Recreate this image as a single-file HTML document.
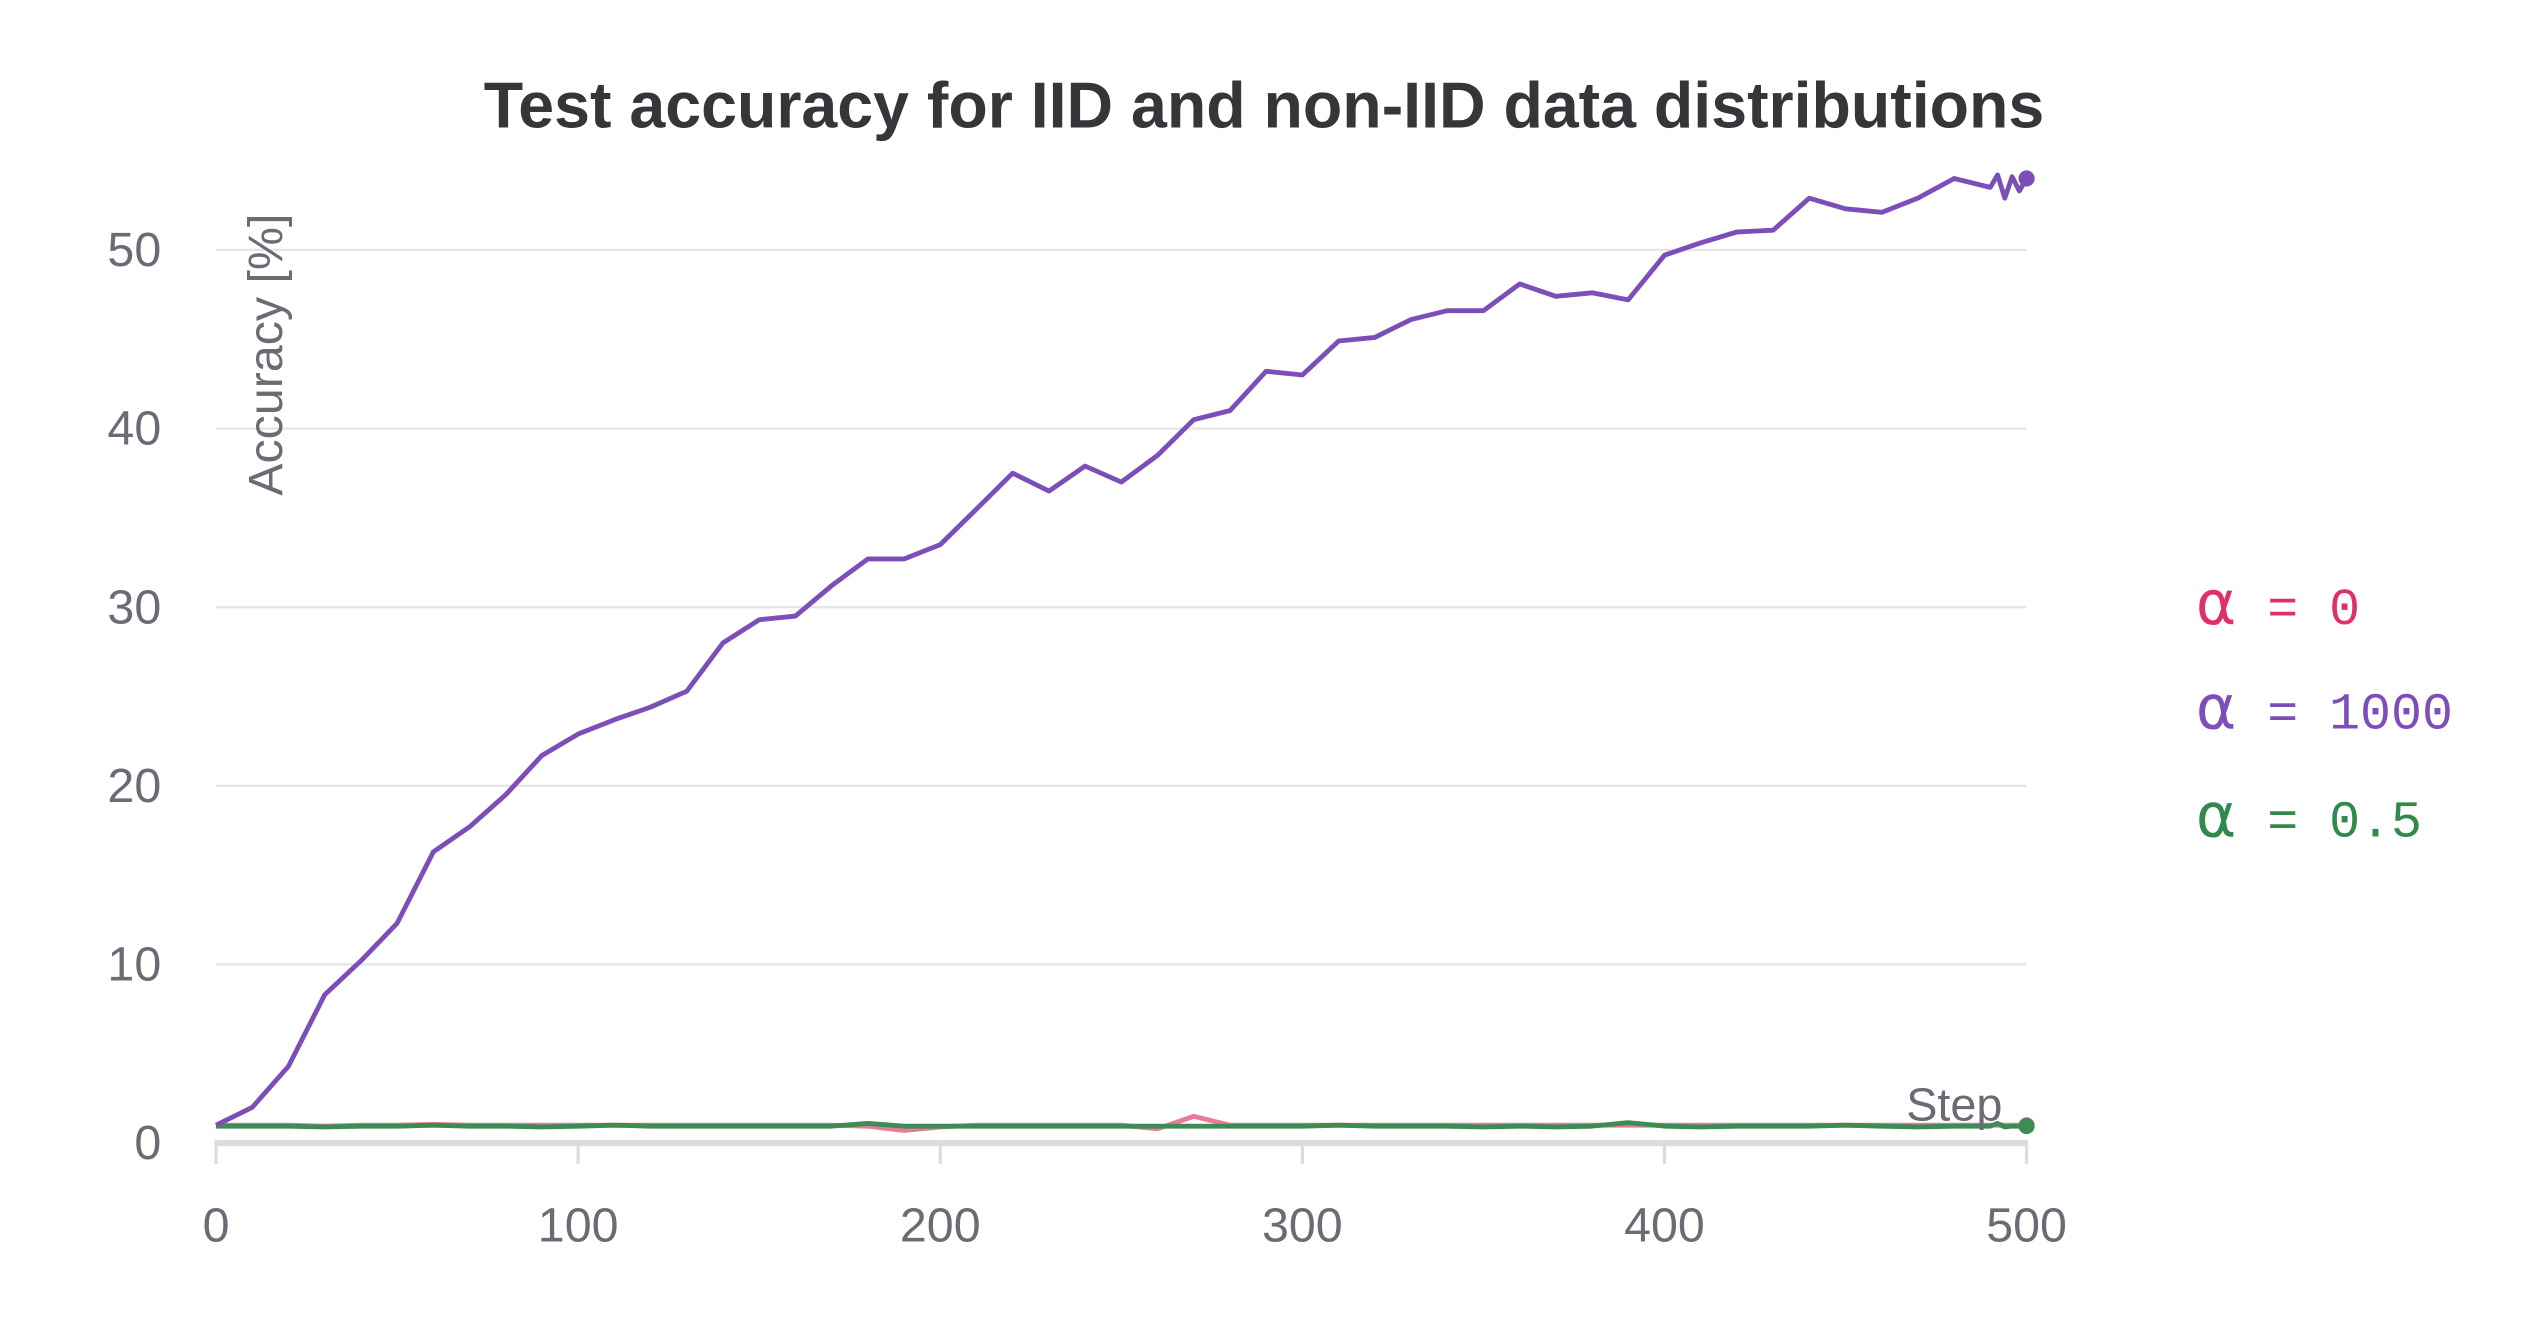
<!DOCTYPE html>
<html><head><meta charset="utf-8"><style>
html,body{margin:0;padding:0;background:#fff;}
svg{display:block;}
</style></head><body>
<svg id="chart" width="2528" height="1328" viewBox="0 0 1568 823.7" xmlns="http://www.w3.org/2000/svg" font-family="'Liberation Sans', sans-serif">
<text x="784" y="79" text-anchor="middle" font-size="40" font-weight="bold" fill="#35353a">Test accuracy for IID and non-IID data distributions</text>
<g id="grid"></g>
<g id="series"></g>
<text transform="translate(175,220) rotate(-90)" text-anchor="middle" font-size="30" fill="#6b6b76">Accuracy [%]</text>
<text x="1242" y="695" text-anchor="end" font-size="29" fill="#6b6b76">Step</text>
<g font-family="'Liberation Mono', monospace" font-size="32">
<text x="1362" y="387" fill="#e0306a"><tspan font-size="38" font-family="'DejaVu Sans', sans-serif">α</tspan> = 0</text>
<text x="1362" y="452" fill="#7c4fb8"><tspan font-size="38" font-family="'DejaVu Sans', sans-serif">α</tspan> = 1000</text>
<text x="1362" y="519" fill="#2f8a4c"><tspan font-size="38" font-family="'DejaVu Sans', sans-serif">α</tspan> = 0.5</text>
</g>
</svg>
<script>
const steps = [0,10,20,30,40,50,60,70,80,90,100,110,120,130,140,150,160,170,180,190,200,210,220,230,240,250,260,270,280,290,300,310,320,330,340,350,360,370,380,390,400,410,420,430,440,450,460,470,480,490,492,494,496,498,500];
const alpha1000 = [1.0,2.0,4.3,8.3,10.2,12.3,16.3,17.7,19.5,21.7,22.9,23.7,24.4,25.3,28.0,29.3,29.5,31.2,32.7,32.7,33.5,35.5,37.5,36.5,37.9,37.0,38.5,40.5,41.0,43.2,43.0,44.9,45.1,46.1,46.6,46.6,48.1,47.4,47.6,47.2,49.7,50.4,51.0,51.1,52.9,52.3,52.1,52.9,54.0,53.5,54.2,52.9,54.1,53.3,54.0];
const alpha0 = [1.0,1.0,1.0,0.95,1.0,1.0,1.05,1.0,1.0,1.0,1.0,1.0,1.0,1.0,1.0,1.0,1.0,1.0,0.95,0.7,0.9,1.0,1.0,1.0,1.0,1.0,0.8,1.5,1.0,1.0,1.0,1.0,1.0,1.0,1.0,1.0,1.0,1.0,1.0,1.0,1.0,1.0,1.0,1.0,1.0,1.0,1.0,1.0,1.0,1.0,1.0,1.0,1.0,1.0,1.0];
const alpha05 = [0.95,0.95,0.95,0.9,0.95,0.95,1.0,0.95,0.95,0.9,0.95,1.0,0.95,0.95,0.95,0.95,0.95,0.95,1.1,0.95,0.95,0.95,0.95,0.95,0.95,0.95,0.95,0.95,0.95,0.95,0.95,1.0,0.95,0.95,0.95,0.9,0.95,0.9,0.95,1.15,0.95,0.9,0.95,0.95,0.95,1.0,0.95,0.9,0.95,0.95,1.1,0.9,0.95,0.95,0.95];
const yTicks = [0,10,20,30,40,50];
const xTicks = [0,100,200,300,400,500];
const NS='http://www.w3.org/2000/svg';
const xs = v => 134 + v*(1257-134)/500;
const ys = v => 709 - v*11.08;
const grid = document.getElementById('grid');
const ser = document.getElementById('series');
function mk(tag, attrs, parent){const e=document.createElementNS(NS,tag);for(const k in attrs)e.setAttribute(k,attrs[k]);parent.appendChild(e);return e;}
yTicks.forEach(t=>{
  if(t>0){const l=mk('line',{x1:134,x2:1257,y1:ys(t),y2:ys(t),stroke:'#e6e6e9','stroke-width':1.5},grid);
  
  }
  const tx=mk('text',{x:100,y:ys(t)+10,'text-anchor':'end','font-size':30,fill:'#6b6b76'},grid);
  tx.textContent=t;
  
  
});
const ax=mk('line',{x1:134,x2:1257,y1:709,y2:709,stroke:'#dcdcdf','stroke-width':4},grid);


xTicks.forEach(t=>{
  const tk=mk('line',{x1:xs(t),x2:xs(t),y1:707,y2:722,stroke:'#dcdcdf','stroke-width':2},grid);
  
  
  const tx=mk('text',{x:xs(t),y:770,'text-anchor':'middle','font-size':30,fill:'#6b6b76'},grid);
  tx.textContent=t;
  
  
});
function line(vals,color,name){
  const d=vals.map((v,i)=>(i?'L':'M')+xs(steps[i]).toFixed(1)+','+ys(v).toFixed(1)).join('');
  const p=mk('path',{d:d,fill:'none',stroke:color,'stroke-width':3,'stroke-linejoin':'round'},ser);
  
  
  const n=vals.length-1;
  const c=mk('circle',{cx:xs(steps[n]),cy:ys(vals[n]),r:5,fill:color},ser);
  
  
}
line(alpha0,'#e87a9a','series-alpha-0');
line(alpha05,'#3d8c55','series-alpha-0-5');
line(alpha1000,'#7c4fb8','series-alpha-1000');
</script>
</body></html>
